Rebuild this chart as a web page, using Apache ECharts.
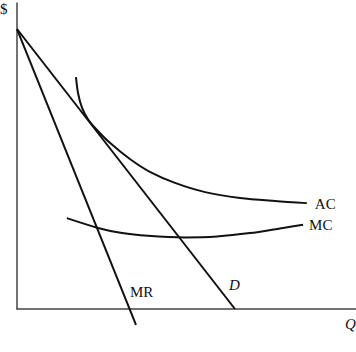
<!DOCTYPE html>
<html>
<head>
<meta charset="utf-8">
<script src="https://cdn.jsdelivr.net/npm/echarts@6/dist/echarts.min.js"></script>
<style>
  html, body { margin: 0; padding: 0; background: #fff; }
  #chart { width: 356px; height: 352px; }
</style>
</head>
<body>
<div id="chart"></div>
<script>
// demand and marginal revenue (straight lines)
var demand = [[0, 9.15], [6.43, 0]];
var marginalRevenue = [[0, 9.15], [3.51, -0.52]];
// average cost and marginal cost
var avgCost = [[1.74, 7.58], [1.80, 7.06], [1.92, 6.57], [2.09, 6.21], [2.36, 5.85],
  [2.74, 5.43], [3.33, 4.90], [3.92, 4.48], [4.66, 4.12], [5.55, 3.82],
  [6.58, 3.63], [7.61, 3.53], [8.55, 3.46]];
var margCost = [[1.47, 2.97], [2.39, 2.65], [3.10, 2.48], [3.86, 2.39], [4.96, 2.34],
  [5.90, 2.37], [6.87, 2.48], [7.85, 2.65], [8.44, 2.75]];

var serif = '"Liberation Serif", "DejaVu Serif", serif';
var ink = '#111';

var chart = echarts.init(document.getElementById('chart'), null, { renderer: 'svg' });

function curve(data, name, smooth) {
  return {
    type: 'line',
    name: name,
    data: data,
    smooth: smooth,
    clip: false,
    symbol: 'none',
    lineStyle: { color: ink, width: 2 }
  };
}

var acSeries = curve(avgCost, 'AC', 0.3);
acSeries.endLabel = { show: true, formatter: 'AC', color: ink, fontFamily: serif, fontSize: 15, distance: 8, offset: [0, 1] };
var mcSeries = curve(margCost, 'MC', 0.3);
mcSeries.endLabel = { show: true, formatter: 'MC', color: ink, fontFamily: serif, fontSize: 15, distance: 6, offset: [0, 0] };

chart.setOption({
  animation: false,
  grid: { left: 17, right: 0, top: 3, bottom: 43 },
  xAxis: {
    type: 'value', min: 0, max: 10,
    axisLine: { show: true, onZero: false, lineStyle: { color: '#444', width: 1.5 } },
    axisTick: { show: false }, axisLabel: { show: false }, splitLine: { show: false }
  },
  yAxis: {
    type: 'value', min: 0, max: 10,
    axisLine: { show: true, onZero: false, lineStyle: { color: '#444', width: 1.5 } },
    axisTick: { show: false }, axisLabel: { show: false }, splitLine: { show: false }
  },
  series: [
    curve(demand, 'D', false),
    curve(marginalRevenue, 'MR', false),
    acSeries,
    mcSeries
  ],
  graphic: [
    { type: 'text', left: 0, top: 1, style: { text: '$', font: '15px ' + serif, fill: ink } },
    { type: 'text', left: 345, top: 316, style: { text: 'Q', font: 'italic 15px ' + serif, fill: ink } },
    { type: 'text', left: 229, top: 277, style: { text: 'D', font: 'italic 15px ' + serif, fill: ink } },
    { type: 'text', left: 130, top: 284, style: { text: 'MR', font: '15px ' + serif, fill: ink } }
  ]
});
window.addEventListener('resize', function() { chart.resize(); });
</script>
</body>
</html>
